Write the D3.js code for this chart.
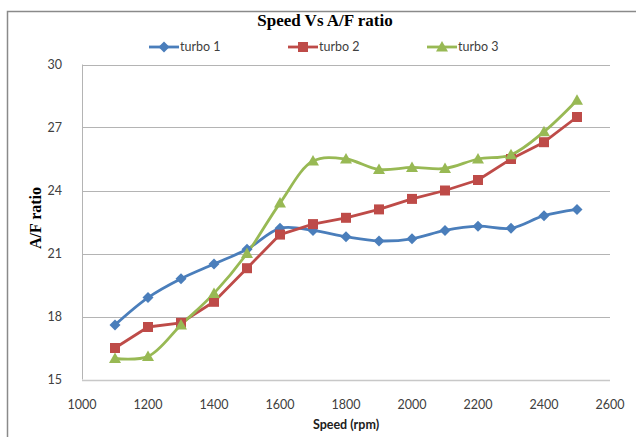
<!DOCTYPE html>
<html>
<head>
<meta charset="utf-8">
<script src="https://cdn.jsdelivr.net/npm/d3@7"></script>
<style>
  html, body { margin: 0; padding: 0; background: #fff; }
  svg { display: block; }
</style>
</head>
<body>
<svg id="chart" width="636" height="437"></svg>
<script>
// Engine speed (rpm) and measured air/fuel ratio for three turbochargers
const speeds = [1100, 1200, 1300, 1400, 1500, 1600, 1700, 1800, 1900, 2000, 2100, 2200, 2300, 2400, 2500];
const turbo1 = [17.6, 18.9, 19.8, 20.5, 21.2, 22.2, 22.1, 21.8, 21.6, 21.7, 22.1, 22.3, 22.2, 22.8, 23.1];
const turbo2 = [16.5, 17.5, 17.7, 18.7, 20.3, 21.9, 22.4, 22.7, 23.1, 23.6, 24.0, 24.5, 25.5, 26.3, 27.5];
const turbo3 = [16.0, 16.1, 17.6, 19.1, 21.0, 23.4, 25.4, 25.5, 25.0, 25.1, 25.05, 25.5, 25.7, 26.8, 28.3];
const seriesNames = ["turbo 1", "turbo 2", "turbo 3"];
const xTicks = [1000, 1200, 1400, 1600, 1800, 2000, 2200, 2400, 2600];
const yTicks = [15, 18, 21, 24, 27, 30];

const svg = d3.select("#chart");
const labelFont = "Lato, 'Liberation Sans', sans-serif";
const serifFont = "'Liberation Serif', 'DejaVu Serif', serif";

// chart frame (right and bottom edges sit outside the canvas)
svg.append("path")
  .attr("d", "M7.5,700 L7.5,11.5 L700,11.5")
  .attr("fill", "none").attr("stroke", "#8a8a8a").attr("stroke-width", 1.5);

const x = d3.scaleLinear().domain([1000, 2600]).range([82, 610]);
const y = d3.scaleLinear().domain([15, 30]).range([379.5, 64.5]);

// horizontal gridlines
svg.append("g").selectAll("line").data(yTicks).join("line")
  .attr("x1", x(1000)).attr("x2", x(2600))
  .attr("y1", d => Math.round(y(d)) + 0.5).attr("y2", d => Math.round(y(d)) + 0.5)
  .attr("stroke", d => d === 15 ? "#c8c8c8" : "#b4b4b4")
  .attr("stroke-width", d => d === 15 ? 1.6 : 1);

// value axis line
svg.append("line")
  .attr("x1", 82.5).attr("x2", 82.5).attr("y1", y(30)).attr("y2", y(15))
  .attr("stroke", "#b4b4b4").attr("stroke-width", 1);

// y tick labels
svg.append("g").selectAll("text").data(yTicks).join("text")
  .attr("x", 62).attr("y", d => y(d)).attr("dy", "0.35em")
  .attr("text-anchor", "end")
  .attr("font-family", labelFont).attr("font-size", 12.5).attr("fill", "#404040")
  .text(d => d);

// x tick labels
svg.append("g").selectAll("text").data(xTicks).join("text")
  .attr("x", d => x(d)).attr("y", 409)
  .attr("text-anchor", "middle")
  .attr("font-family", labelFont).attr("font-size", 12.5).attr("fill", "#404040")
  .text(d => d);

// titles
svg.append("text")
  .attr("x", 325).attr("y", 26).attr("text-anchor", "middle")
  .attr("font-family", serifFont).attr("font-weight", "bold").attr("font-size", 17)
  .attr("fill", "#000").text("Speed Vs A/F ratio");

svg.append("text")
  .attr("x", 346).attr("y", 429).attr("text-anchor", "middle")
  .attr("font-family", labelFont).attr("font-weight", "bold").attr("font-size", 12.5)
  .attr("fill", "#202020").text("Speed (rpm)");

svg.append("text")
  .attr("transform", "translate(41,218) rotate(-90)")
  .attr("text-anchor", "middle")
  .attr("font-family", serifFont).attr("font-weight", "bold").attr("font-size", 16)
  .attr("fill", "#000").text("A/F ratio");

// series definitions
const series = [
  { name: seriesNames[0], values: turbo1, color: "#4A7EBB", shape: "diamond", curve: d3.curveCatmullRom.alpha(0.5) },
  { name: seriesNames[1], values: turbo2, color: "#BE4B48", shape: "square", curve: d3.curveLinear },
  { name: seriesNames[2], values: turbo3, color: "#98B954", shape: "triangle", curve: d3.curveCatmullRom.alpha(0.5) }
];

function markerPath(shape) {
  if (shape === "diamond") return "M0,-5.5 L5.5,0 L0,5.5 L-5.5,0 Z";
  if (shape === "square") return "M-5,-5 L5,-5 L5,5 L-5,5 Z";
  return "M0,-6 L6,4.5 L-6,4.5 Z";
}

series.forEach(s => {
  const pts = speeds.map((sp, i) => [sp, s.values[i]]);
  const line = d3.line().x(d => x(d[0])).y(d => y(d[1])).curve(s.curve);
  svg.append("path").datum(pts)
    .attr("d", line).attr("fill", "none")
    .attr("stroke", s.color).attr("stroke-width", 2.8)
    .attr("stroke-linejoin", "round").attr("stroke-linecap", "round");
});

series.forEach(s => {
  const pts = speeds.map((sp, i) => [sp, s.values[i]]);
  svg.append("g").selectAll("path").data(pts).join("path")
    .attr("transform", d => `translate(${x(d[0])},${y(d[1])})`)
    .attr("d", markerPath(s.shape))
    .attr("fill", s.color);
});

// legend
const legendPos = [149, 288, 427];
series.forEach((s, i) => {
  const g = svg.append("g").attr("transform", `translate(${legendPos[i]},47)`);
  g.append("line").attr("x1", 0).attr("x2", 30).attr("y1", 0).attr("y2", 0)
    .attr("stroke", s.color).attr("stroke-width", 2.8);
  g.append("path").attr("transform", "translate(15,0)")
    .attr("d", markerPath(s.shape)).attr("fill", s.color);
  g.append("text").attr("x", 31).attr("y", 0).attr("dy", "0.35em")
    .attr("font-family", labelFont).attr("font-size", 12.5).attr("fill", "#404040")
    .text(s.name);
});
</script>
</body>
</html>
